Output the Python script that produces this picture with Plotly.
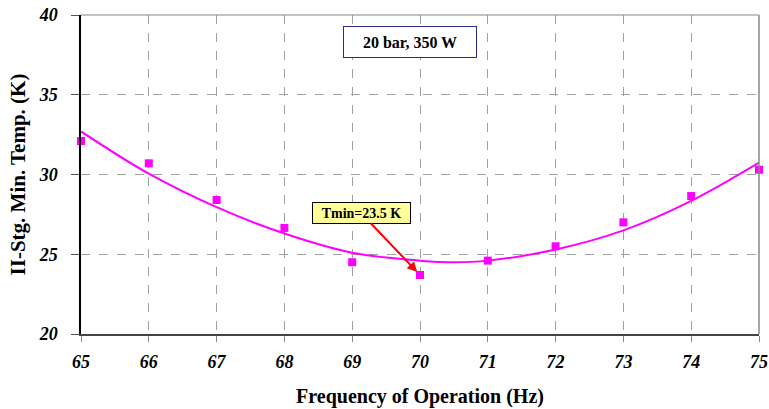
import plotly.graph_objects as go

freq = [65, 66, 67, 68, 69, 70, 71, 72, 73, 74, 75]
temp_meas = [32.1, 30.7, 28.4, 26.65, 24.5, 23.7, 24.6, 25.5, 27.0, 28.65, 30.3]
fit_freq = [65, 66, 67, 68, 69, 70, 70.5, 71, 72, 73, 74, 75]
fit_temp = [32.7, 30.05, 27.95, 26.3, 25.1, 24.6, 24.5, 24.6, 25.3, 26.5, 28.35, 30.75]
x_ticks = [65, 66, 67, 68, 69, 70, 71, 72, 73, 74, 75]
y_ticks = [20, 25, 30, 35, 40]

SERIF = "Liberation Serif"
MAG = "#FF00FF"

fig = go.Figure()
fig.add_trace(go.Scatter(x=fit_freq, y=fit_temp, mode="lines", line=dict(color=MAG, width=2, shape="spline"),
                         showlegend=False, hoverinfo="skip", cliponaxis=False))
fig.add_trace(go.Scatter(x=freq, y=temp_meas, mode="markers", cliponaxis=False,
                         marker=dict(symbol="square", size=8, color=MAG), showlegend=False))

tickfont = dict(family=SERIF, size=18, color="black", weight="bold", style="italic")
titlefont = dict(family=SERIF, size=20, color="black", weight="bold")
fig.update_xaxes(range=[65, 75], tickvals=x_ticks, tickfont=tickfont, automargin=False,
                 showgrid=True, gridcolor="#A0A0A0", griddash="dash", gridwidth=1,
                 ticks="outside", ticklen=6, tickcolor="#888888",
                 showline=True, linecolor="#444444", linewidth=1.5,
                 zeroline=False, ticklabelstandoff=5,
                 title=dict(text="Frequency of Operation (Hz)", font=titlefont, standoff=18))
fig.update_yaxes(range=[20, 40], tickvals=y_ticks, tickfont=tickfont, automargin=False,
                 showgrid=True, gridcolor="#A0A0A0", griddash="dash", gridwidth=1,
                 ticks="outside", ticklen=8, tickcolor="#555555",
                 showline=True, linecolor="black", linewidth=1.5,
                 zeroline=False, ticklabelstandoff=10,
                 title=dict(text="II-Stg. Min. Temp. (K)", font=dict(family=SERIF, size=21, color="black", weight="bold"), standoff=7))

# plot border on top and right
fig.add_shape(type="line", xref="paper", yref="paper", x0=0, x1=1, y0=1, y1=1, line=dict(color="#888888", width=1))
fig.add_shape(type="line", xref="paper", yref="paper", x0=1, x1=1, y0=0, y1=1, line=dict(color="#888888", width=1.5))

fig.add_annotation(x=69.85, y=38.3, xref="x", yref="y", text="20 bar, 350 W", showarrow=False,
                   font=dict(family=SERIF, size=16, color="black", weight="bold"),
                   bgcolor="white", bordercolor="#2B2B8F", borderwidth=1, borderpad=5,
                   width=122, height=20)
fig.add_annotation(x=70, y=23.7, xref="x", yref="y", text="Tmin=23.5 K", showarrow=True,
                   ax=-59, ay=-62, axref="pixel", ayref="pixel",
                   arrowhead=2, arrowsize=1, arrowwidth=2, arrowcolor="#FF0000", standoff=4,
                   font=dict(family=SERIF, size=14, color="black", weight="bold"),
                   bgcolor="#FFFF99", bordercolor="black", borderwidth=1, borderpad=2,
                   width=93, height=16)

fig.update_layout(width=769, height=409, margin=dict(l=81, r=10, t=15, b=75),
                  plot_bgcolor="white", paper_bgcolor="white")
# remove the browser's default 8px body margin so the figure sits at the page origin
fig.write_html("out.html", config={"displayModeBar": False},
               post_script="document.body.style.margin='0px';document.body.style.overflow='hidden';")
